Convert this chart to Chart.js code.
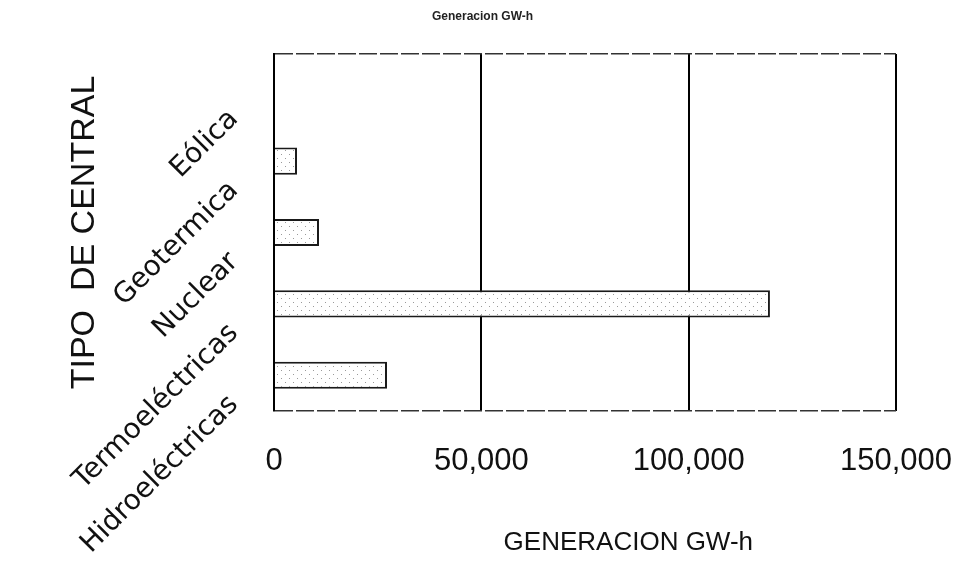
<!DOCTYPE html>
<html>
<head>
<meta charset="utf-8">
<script src="https://cdn.jsdelivr.net/npm/chart.js@4.4.1/dist/chart.umd.min.js"></script>
<style>
  html, body { margin: 0; padding: 0; background: #ffffff; }
  #wrap { width: 965px; height: 561px; position: relative; }
</style>
</head>
<body>
<div id="wrap"><canvas id="chart" width="965" height="561"></canvas></div>
<script>
// datos (GW-h)
const categorias = ['Eólica', 'Geotermica', 'Nuclear', 'Termoeléctricas', 'Hidroeléctricas'];
const generacion = [0, 5550, 10850, 119600, 27250];
const ticksX = [0, 50000, 100000, 150000];

const tituloGrafica = 'Generacion GW-h';
// el titulo del eje X esta corrido a la derecha en el original
const tituloX = '            GENERACION GW-h';
const tituloY = 'TIPO  DE CENTRAL';

// relleno punteado de las barras (como el original escaneado)
function patronPuntos() {
    const c = document.createElement('canvas');
    c.width = 8;
    c.height = 8;
    const g = c.getContext('2d');
    g.fillStyle = '#ffffff';
    g.fillRect(0, 0, 8, 8);
    g.fillStyle = '#9a9a9a';
    g.fillRect(1, 2, 1, 1);
    g.fillRect(5, 6, 1, 1);
    return g.createPattern(c, 'repeat');
}

const ctx = document.getElementById('chart').getContext('2d');

new Chart(ctx, {
    type: 'bar',
    data: {
        labels: categorias,
        datasets: [{
            data: generacion,
            backgroundColor: patronPuntos(),
            borderColor: '#1a1a1a',
            borderWidth: 2,
            borderSkipped: 'start',
            barPercentage: 0.38,
            categoryPercentage: 1
        }]
    },
    options: {
        indexAxis: 'y',
        responsive: false,
        animation: false,
        layout: { padding: 0 },
        plugins: {
            legend: { display: false },
            tooltip: { enabled: false },
            title: {
                display: true,
                text: tituloGrafica,
                color: '#222',
                font: { family: 'Liberation Sans', size: 12 },
                padding: { top: 9, bottom: 30.6 }
            }
        },
        scales: {
            x: {
                min: 0,
                max: 150000,
                afterBuildTicks: (s) => { s.ticks = ticksX.map(v => ({ value: v })); },
                afterFit: (s) => {
                    s.height = 150;
                    s.paddingLeft = 0;
                    s.paddingRight = 69;
                },
                grid: { color: '#000', lineWidth: 2, drawTicks: false },
                border: { display: false },
                ticks: {
                    color: '#111',
                    padding: 32,
                    font: { family: 'Liberation Sans', size: 31 },
                    callback: (v) => v.toLocaleString('en-US')
                },
                title: {
                    display: true,
                    text: tituloX,
                    color: '#111',
                    font: { family: 'Liberation Sans', size: 26 },
                    padding: { top: 0, bottom: 3 }
                }
            },
            y: {
                afterFit: (s) => {
                    s.width = 274;
                    s.paddingTop = 0;
                    s.paddingBottom = 0;
                },
                grid: {
                    // solo el marco de arriba y de abajo (la ultima linea no tiene tick)
                    color: (c) => (c.index === 0 || c.tick === undefined) ? '#333' : 'rgba(0,0,0,0)',
                    lineWidth: 1.5,
                    drawTicks: false
                },
                border: { display: true, color: '#000', width: 2, dash: [18, 3] },
                ticks: {
                    color: '#111',
                    minRotation: 45,
                    maxRotation: 45,
                    padding: 40,
                    labelOffset: 25,
                    font: { family: 'DejaVu Sans', size: 28 }
                },
                title: {
                    display: true,
                    text: tituloY,
                    color: '#111',
                    font: { family: 'Liberation Sans', size: 34 },
                    padding: { top: 64, bottom: 0 }
                }
            }
        }
    }
});
</script>
</body>
</html>
